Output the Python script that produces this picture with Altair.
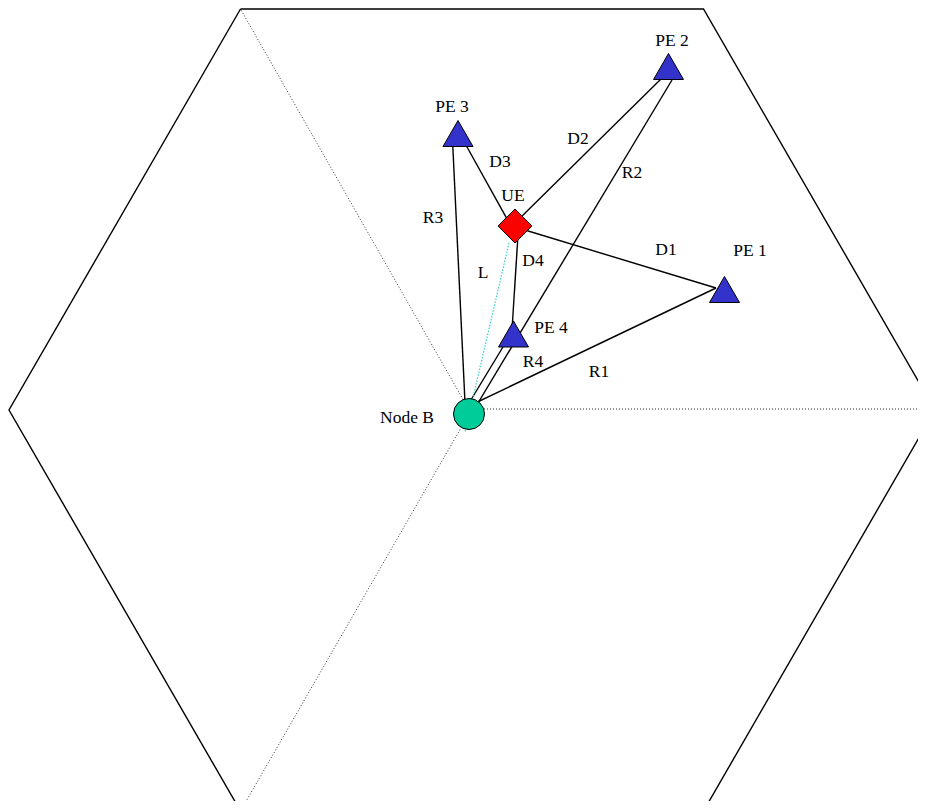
import altair as alt
import pandas as pd

# Coordinate system: origin at the cell centre, y upwards (units ~ pixels of the figure)
# Hexagonal cell outline
hex_x = [-231.5, 231.5, 463, 231.5, -231.5, -463, -231.5]
hex_y = [401, 401, 0, -401, -401, 0, 401]

# Sector borders (dotted) from Node B
sec_x1 = [-3, -3, -3]
sec_y1 = [0, 1, -4]
sec_x2 = [-231.5, 463, -231.5]
sec_y2 = [401, 1, -401]

# Nodes
node_names = ["Node B", "UE", "PE 1", "PE 2", "PE 3", "PE 4"]
node_kind = ["nodeb", "ue", "pe", "pe", "pe", "pe"]
node_x = [-3, 43, 252.5, 196.5, -14, 41.5]
node_y = [-4, 184, 120.5, 343.5, 276.5, 76]

# Links (distances) between nodes
seg_names = ["R1", "R2", "R3", "R4", "D1", "D2", "D3", "D4"]
seg_x1 = [-3, 0, -6.5, -9, 43, 43, 39, 46]
seg_y1 = [4, -3, -3, -3, 183, 187, 184, 175]
seg_x2 = [244, 200, -19.5, 37, 244, 193, -10, 40]
seg_y2 = [122, 330, 270, 73, 122, 335, 272, 80]

# Line of sight L (UE to Node B)
l_x1 = [37]
l_y1 = [167]
l_x2 = [-7]
l_y2 = [-22]

# Labels
lab_text = ["PE 2", "PE 3", "UE", "PE 1", "PE 4", "Node B",
            "D2", "D3", "R2", "R3", "D1", "L", "D4", "R4", "R1"]
lab_x = [200, -20, 41, 278, 79, -65,
         106, 28, 160, -39, 194, 11, 61, 61, 127]
lab_y = [369, 303, 214, 159, 82, -8,
         271, 248, 237, 192, 160, 137, 149, 48, 38]

W, H = 910, 793
xs = alt.Scale(domain=[-464, 446])
ys = alt.Scale(domain=[-391, 402])

hex_df = pd.DataFrame({"x": hex_x, "y": hex_y, "o": list(range(len(hex_x)))})
sec_df = pd.DataFrame({"x": sec_x1, "y": sec_y1, "x2": sec_x2, "y2": sec_y2})
seg_df = pd.DataFrame({"name": seg_names, "x": seg_x1, "y": seg_y1, "x2": seg_x2, "y2": seg_y2})
l_df = pd.DataFrame({"x": l_x1, "y": l_y1, "x2": l_x2, "y2": l_y2})
node_df = pd.DataFrame({"name": node_names, "kind": node_kind, "x": node_x, "y": node_y})
lab_df = pd.DataFrame({"t": lab_text, "x": lab_x, "y": lab_y})

X = lambda f="x": alt.X(f"{f}:Q", scale=xs, axis=None)
Y = lambda f="y": alt.Y(f"{f}:Q", scale=ys, axis=None)

hexagon = alt.Chart(hex_df).mark_line(color="black", strokeWidth=1.4, clip=True).encode(
    x=X(), y=Y(), order="o:Q"
)

sectors = alt.Chart(sec_df).mark_rule(color="#333333", strokeWidth=1, strokeDash=[1, 2], clip=True).encode(
    x=X(), y=Y(), x2="x2:Q", y2="y2:Q"
)

links = alt.Chart(seg_df).mark_rule(color="black", strokeWidth=1.4).encode(
    x=X(), y=Y(), x2="x2:Q", y2="y2:Q"
)

los = alt.Chart(l_df).mark_rule(color="#33CCCC", strokeWidth=1.2, strokeDash=[1.5, 1.5]).encode(
    x=X(), y=Y(), x2="x2:Q", y2="y2:Q"
)

pes = alt.Chart(node_df).transform_filter(alt.datum.kind == "pe").mark_point(
    shape="triangle-up", filled=True, fill="#3333CC", stroke="black", strokeWidth=1,
    size=900, opacity=1
).encode(x=X(), y=Y())

ue = alt.Chart(node_df).transform_filter(alt.datum.kind == "ue").mark_point(
    shape="diamond", filled=True, fill="#FF0000", stroke="black", strokeWidth=1,
    size=1156, opacity=1
).encode(x=X(), y=Y())

nodeb = alt.Chart(node_df).transform_filter(alt.datum.kind == "nodeb").mark_point(
    shape="circle", filled=True, fill="#00CC99", stroke="black", strokeWidth=1,
    size=961, opacity=1
).encode(x=X(), y=Y())

labels = alt.Chart(lab_df).mark_text(
    font="Liberation Serif", fontSize=17.5, color="black", align="center", baseline="middle"
).encode(x=X(), y=Y(), text="t:N")

chart = alt.layer(hexagon, sectors, links, los, pes, ue, nodeb, labels).properties(
    width=W, height=H, padding=0, background="white"
).configure_view(stroke=None)

chart.save("out.html", embed_options={"renderer": "svg", "actions": False})
